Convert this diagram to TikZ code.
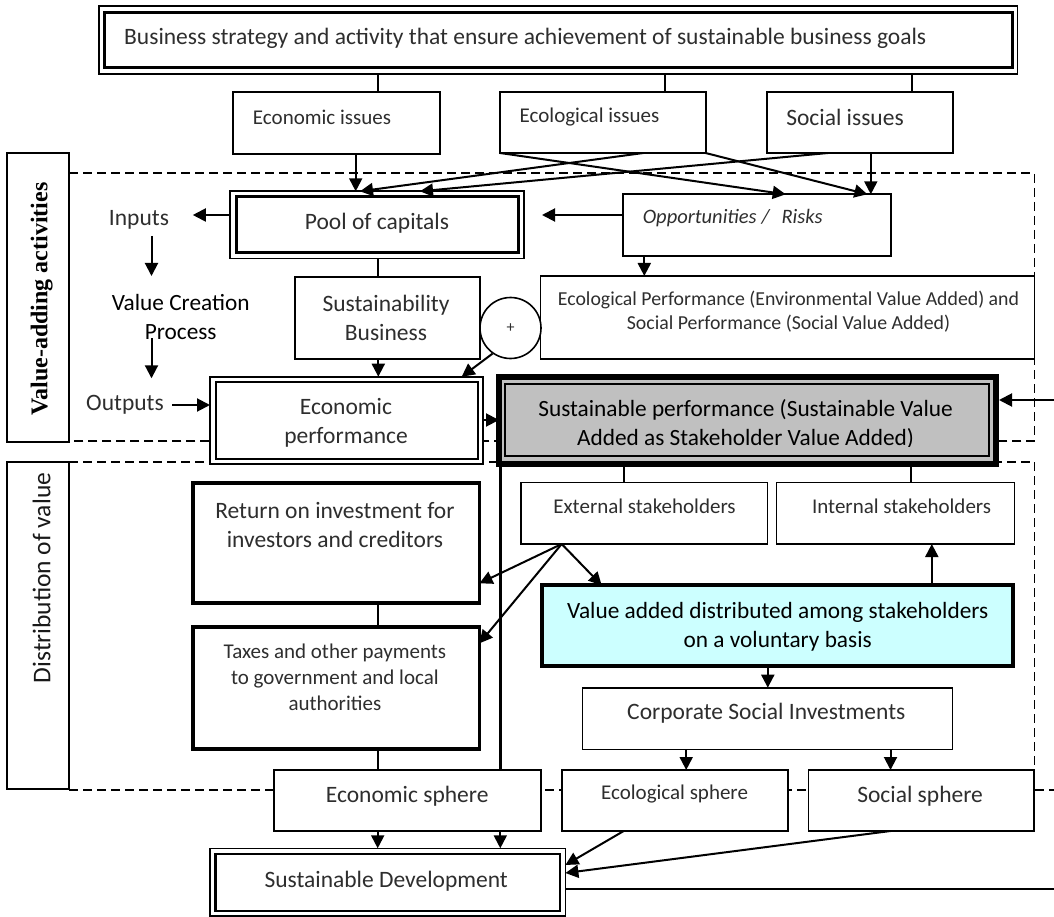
\documentclass[tikz,border=0pt]{standalone}
\usepackage{fontspec}
\setmainfont{Carlito}
\newfontfamily\timesf{Liberation Serif}
\usetikzlibrary{arrows.meta,fit,calc}
\definecolor{spgray}{RGB}{192,192,192}
\definecolor{vacyan}{RGB}{204,255,255}
\begin{document}
\begin{tikzpicture}[x=1pt,y=-1pt,
  box/.style={draw, line width=1.8pt, inner sep=0pt, outer sep=0pt, fill=white},
  mbox/.style={box, line width=2.2pt},
  tbox/.style={box, line width=3.8pt},
  inbox/.style={draw, inner sep=0pt, outer sep=0pt},
  txt/.style={inner sep=0pt, align=center, text=black!82, font=\fontsize{23.5}{29}\selectfont},
  htxt/.style={txt, text=black},
  stxt/.style={txt, font=\fontsize{21}{25.8}\selectfont},
  con/.style={line width=2pt},
  arr/.style={line width=2pt, -{Triangle[length=13pt,width=13pt]}},
  dsh/.style={line width=1.6pt, dash pattern=on 9pt off 5pt},
]
\useasboundingbox (0,0) rectangle (1054,917);

% dashed region frames
\draw[dsh] (69,173.3) -- (1034.3,173.3) -- (1034.3,441) -- (69,441);
\draw[dsh] (69,461.7) -- (1034.3,461.7) -- (1034.3,790);
\draw[dsh] (69,790) -- (1054,790);

% left labels
\node[box, fit={(7,153.3)(69,441.7)}] (va) {};
\node[rotate=90, inner sep=0pt, font=\timesf\bfseries\fontsize{24}{24}\selectfont] (vat) at (41.7,299) {Value-adding activities};
\node[box, fit={(7,461.7)(69,789)}] (dv) {};
\node[rotate=90, inner sep=0pt, text=black!90, font=\fontsize{25.5}{26}\selectfont] (dvt) at (41.7,578) {Distribution of value};

% top box
\node[box, line width=1.6pt, fit={(98.8,6)(1017.3,74)}] (topo) {};
\node[inbox, line width=3pt, fit={(104.5,12.5)(1012.3,68)}] (topi) {};
\node[txt, anchor=west] (topt) at (124,38.5) {Business strategy and activity that ensure achievement of sustainable business goals};

% issues
\node[mbox, fit={(233,92)(440,154)}] (eci) {};
\node[stxt] (ecit) at (322,117) {Economic issues};
\node[mbox, fit={(500,92)(705.6,153)}] (eli) {};
\node[stxt] (elit) at (589.5,117) {Ecological issues};
\node[mbox, fit={(767,92)(952.6,153)}] (soi) {};
\node[txt] (soit) at (845,117) {Social issues};
\draw[con] (377.7,0 |- topo.south) -- (377.7,0 |- eci.north);
\draw[con] (665.4,0 |- topo.south) -- (665.4,0 |- eli.north);
\draw[con] (911.7,0 |- topo.south) -- (911.7,0 |- soi.north);

% pool of capitals
\node[box, line width=1.6pt, fit={(230,191.3)(524,258.7)}] (pool) {};
\node[inbox, line width=3pt, fit={(236.5,197)(518,253)}] (pooli) {};
\node[txt] (poolt) at (377,223) {Pool of capitals};

% opportunities / risks
\node[mbox, line width=2pt, fit={(623.2,194.3)(890.6,256)}] (opp) {};
\node[txt, anchor=west, font=\itshape\fontsize{20.5}{25}\selectfont] (oppt) at (642.6,218.3) {Opportunities\hspace{5pt}/\hspace{12pt}Risks};

% crossing arrows from issues
\draw[arr] (355.7,0 |- eci.south) -- (355.7,0 |- pool.north);
\draw[arr] (643.3,0 |- eli.south) -- (360,0 |- pool.north);
\draw[arr] (828,0 |- soi.south) -- (420,0 |- pool.north);
\draw[arr] (eli.south west) -- (785.7,0 |- opp.north);
\draw[arr] (eli.south east) -- (867.4,0 |- opp.north);
\draw[arr] (870.8,0 |- soi.south) -- (870.8,0 |- opp.north);

% inputs / process / outputs
\node[txt] (inp) at (139,220) {Inputs};
\coordinate (inA) at (192.8,215);
\draw[arr] (pool.west |- 0,215) -- (inA);
\coordinate (oppA) at (542,215);
\draw[arr] (opp.west |- 0,215) -- (oppA);
\coordinate (d1) at (151.5,236);
\coordinate (d2) at (151.5,276);
\draw[arr] (d1) -- (d2);
\node[htxt, font=\fontsize{23.3}{29}\selectfont] (vcp) at (180.7,317.2) {Value Creation\\Process};
\coordinate (d3) at (151.5,338);
\coordinate (d4) at (151.5,378.3);
\draw[arr] (d3) -- (d4);
\node[txt] (out) at (125,405) {Outputs};

% sustainability business and plus
\node[mbox, line width=2pt, fit={(295,276.7)(480,359.3)}] (sb) {};
\node[txt] (sbt) at (386,317.8) {Sustainability\\Business};
\draw[con] (377.7,0 |- pool.south) -- (377.7,0 |- sb.north);

% ecological performance
\node[box, line width=1.6pt, fit={(540.6,276)(1034.3,359)}] (ep) {};
\node[txt, font=\fontsize{19.8}{24.7}\selectfont] (ept) at (788.5,311.7) {Ecological Performance (Environmental Value Added) and\\Social Performance (Social Value Added)};
\draw[arr] (644.3,0 |- opp.south) -- (644.3,0 |- ep.north);

\node[circle, draw, line width=1.6pt, minimum size=61pt, inner sep=0pt, fill=white, text=black!82] (plus) at (510.5,328) {\fontsize{16}{16}\selectfont +};

% economic performance
\node[box, line width=2pt, fit={(210,376.7)(482.8,464.3)}] (ecp) {};
\node[inbox, line width=2pt, fit={(215.5,382)(477.5,459)}] (ecpi) {};
\node[txt] (ecpt) at (346,422.5) {Economic\\performance};
\draw[arr] (378.3,0 |- sb.south) -- (378.3,0 |- ecp.north);
\draw[arr] (plus.235) -- (461.7,0 |- ecp.north);
\draw[arr] (172,0 |- out.center) -- (ecp.west |- out.center);

% sustainable performance
\node[draw, line width=6pt, fill=spgray, inner sep=0pt, outer sep=0pt, fit={(499,377.3)(996,463.7)}] (susp) {};
\begin{scope}
\clip (505,384) rectangle (989,446.7);
\node[htxt, font=\fontsize{23.3}{28.3}\selectfont] (suspt) at (745.6,424.2) {Sustainable performance (Sustainable Value\\Added as Stakeholder Value Added)};
\end{scope}
\node[inbox, line width=1.4pt, fit={(505,384)(989,456)}] (suspi) {};
\draw[arr] (ecp.east |- 0,420) -- (susp.west |- 0,420);
\coordinate (rin) at (1054,400);
\draw[arr] (rin) -- (999,0 |- rin);

% stakeholders
\node[box, line width=1.5pt, fit={(521.2,482.3)(767.5,544)}] (ext) {};
\node[stxt] (extt) at (644.5,506.7) {External stakeholders};
\node[box, line width=1.5pt, fit={(776.7,482.3)(1014.5,544)}] (int) {};
\node[stxt] (intt) at (901.6,506.7) {Internal stakeholders};
\draw[con] (623.7,0 |- susp.south) -- (623.7,0 |- ext.north);
\draw[con] (911,0 |- susp.south) -- (911,0 |- int.north);

% return / taxes
\node[tbox, fit={(193,483)(479.5,603)}] (roi) {};
\node[txt] (roit) at (334.9,524.7) {Return on investment for\\investors and creditors};
\node[tbox, fit={(193,627)(479.5,748.7)}] (tax) {};
\node[stxt] (taxt) at (334.9,677.5) {Taxes and other payments\\to government and local\\authorities};
\draw[con] (377.7,0 |- roi.south) -- (377.7,0 |- tax.north);

% value added distributed
\node[box, line width=4pt, fill=vacyan, fit={(542,585.3)(1013.2,666.3)}] (vad) {};
\node[htxt, font=\fontsize{23.3}{29.4}\selectfont] (vadt) at (777.7,627) {Value added distributed among stakeholders\\on a voluntary basis};
\draw[arr] (931.8,0 |- vad.north) -- (931.8,0 |- int.south);

% CSI
\node[box, line width=1.6pt, fit={(582.3,687.7)(952.3,749.3)}] (csi) {};
\node[txt] (csit) at (766.3,713.3) {Corporate Social Investments};
\draw[arr] (767.8,0 |- vad.south) -- (767.8,0 |- csi.north);

% spheres
\node[box, fit={(273.8,770)(541.3,831)}] (ecs) {};
\node[txt] (ecst) at (407.2,796.7) {Economic sphere};
\node[box, fit={(561.8,770)(788,831)}] (els) {};
\node[stxt] (elst) at (674.6,794.3) {Ecological sphere};
\node[box, fit={(808.5,770)(1034.3,831)}] (sos) {};
\node[txt] (sost) at (920.1,796.7) {Social sphere};
\draw[arr] (686.2,0 |- csi.south) -- (686.2,0 |- els.north);
\draw[arr] (890.5,0 |- csi.south) -- (890.5,0 |- sos.north);
\draw[con] (377.7,0 |- tax.south) -- (377.7,0 |- ecs.north);
\draw[line width=3.5pt] (500.7,0 |- susp.south) -- (500.7,0 |- ecs.north);

% external stakeholder arrows
\draw[arr] (561.7,0 |- ext.south) -- (601.7,0 |- vad.north);
\draw[arr] (561.7,0 |- ext.south) -- (roi.east |- 0,583.3);
\draw[arr] (561.7,0 |- ext.south) -- (tax.east |- 0,643.3);

% sustainable development
\node[box, line width=1.6pt, fit={(210,848.3)(565.4,916)}] (sd) {};
\node[inbox, line width=2.4pt, fit={(215.5,854)(560,910.7)}] (sdi) {};
\node[txt] (sdt) at (386.2,881.7) {Sustainable Development};
\draw[arr] (377.7,0 |- ecs.south) -- (377.7,0 |- sd.north);
\draw[arr] (500.3,0 |- ecs.south) -- (500.3,0 |- sd.north);
\draw[arr] (623.7,0 |- els.south) -- (sd.east |- 0,865);
\draw[arr] (890.5,0 |- sos.south) -- (sd.east |- 0,873);
\coordinate (rout) at (1054,889.3);
\draw[con] (sd.east |- rout) -- (rout);
\end{tikzpicture}
\end{document}
